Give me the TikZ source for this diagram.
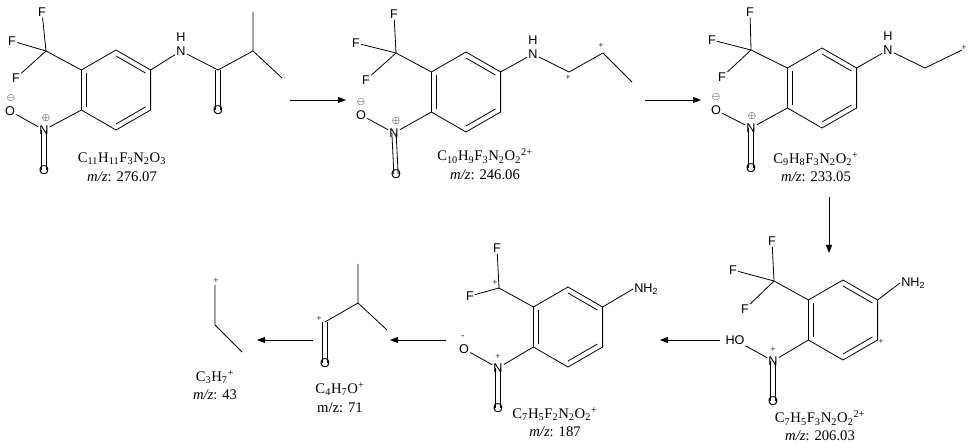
\documentclass[tikz,border=0pt]{standalone}
\usepackage{fontspec}
\setmainfont{Liberation Serif}
\newfontfamily\atomf{Liberation Sans}
\usetikzlibrary{calc,arrows.meta}
\tikzset{
  atom/.style={font=\atomf\fontsize{9.5}{10}\selectfont,inner sep=0.8pt},
  chg/.style={font=\fontsize{7}{7}\selectfont,inner sep=0pt},
  form/.style={font=\fontsize{11}{12}\selectfont,inner sep=0pt,align=center},
  bond/.style={line width=0.6pt},
  rxn/.style={line width=0.6pt,-{Triangle[length=6pt,width=4.5pt]}}
}
\newcommand\benz[3]{%
  \coordinate (#1c) at (#2,#3);
  \coordinate (#1a) at (#2,#3-40);
  \coordinate (#1b) at (#2+34.6,#3-20);
  \coordinate (#1cc) at (#2+34.6,#3+20);
  \coordinate (#1d) at (#2,#3+40);
  \coordinate (#1e) at (#2-34.6,#3+20);
  \coordinate (#1f) at (#2-34.6,#3-20);
  \draw[bond] (#1a)--(#1b)--(#1cc)--(#1d)--(#1e)--(#1f)--cycle;
  \draw[bond] ($(#1c)!0.85!(#1a)$)--($(#1c)!0.85!(#1b)$);
  \draw[bond] ($(#1c)!0.85!(#1cc)$)--($(#1c)!0.85!(#1d)$);
  \draw[bond] ($(#1c)!0.85!(#1e)$)--($(#1c)!0.85!(#1f)$);
}
\newcommand\dbl[3]{%
  \draw[bond] ($(#1)!#3!90:(#2)$)--($(#2)!#3!-90:(#1)$);
  \draw[bond] ($(#1)!#3!-90:(#2)$)--($(#2)!#3!90:(#1)$);
}
\begin{document}
\begin{tikzpicture}[x=0.75pt,y=-0.75pt]
\useasboundingbox (0,0) rectangle (969,448);
% ---------- S1
\benz{p}{116}{90}
\coordinate (p1) at (46,51);
\node[atom] (p1F1) at (42,12) {F};
\node[atom] (p1F2) at (12,41) {F};
\node[atom] (p1F3) at (16,78) {F};
\draw[bond] (pf)--(p1);
\draw[bond] (p1)--(p1F1); \draw[bond] (p1)--(p1F2); \draw[bond] (p1)--(p1F3);
\node[atom] (p1N) at (44,130) {N};
\node[chg] (p1Nc) at (46,118) {$\oplus$};
\node[atom] (p1Om) at (10,111) {O};
\node[chg] (p1Oc) at (11,98) {$\ominus$};
\node[atom] (p1O) at (44,170) {O};
\draw[bond] (pe)--(p1N); \draw[bond] (p1N)--(p1Om);
\dbl{p1N}{p1O}{1.6pt}
\node[atom] (p1NH) at (181,51) {N};
\node[atom] (p1H) at (181,37) {H};
\draw[bond] (pb)--(p1NH);
\coordinate (p1C) at (218,70);
\node[atom] (p1CO) at (218,110) {O};
\coordinate (p1CH) at (253,51);
\coordinate (p1M1) at (253,12);
\coordinate (p1M2) at (282,78);
\draw[bond] (p1NH)--(p1C)--(p1CH)--(p1M1); \draw[bond] (p1CH)--(p1M2);
\dbl{p1C}{p1CO}{1.6pt}
\node[form] (p1f) at (122,159) {C\textsubscript{11}H\textsubscript{11}F\textsubscript{3}N\textsubscript{2}O\textsubscript{3}};
\node[form] (p1m) at (122,177) {\textit{m/z}: 276.07};
% ---------- S2
\benz{q}{466}{92}
\coordinate (q1) at (396,53);
\node[atom] (q1F1) at (394,14) {F};
\node[atom] (q1F2) at (356,43) {F};
\node[atom] (q1F3) at (366,80) {F};
\draw[bond] (qf)--(q1);
\draw[bond] (q1)--(q1F1); \draw[bond] (q1)--(q1F2); \draw[bond] (q1)--(q1F3);
\node[atom] (q1N) at (394,133) {N};
\node[chg] (q1Nc) at (396,121) {$\oplus$};
\node[atom] (q1Om) at (361,115) {O};
\node[chg] (q1Oc) at (361,102) {$\ominus$};
\node[atom] (q1O) at (396,174) {O};
\draw[bond] (qe)--(q1N); \draw[bond] (q1N)--(q1Om);
\dbl{q1N}{q1O}{1.6pt}
\node[atom] (q1NH) at (533,54) {N};
\node[atom] (q1H) at (533,40) {H};
\draw[bond] (qb)--(q1NH);
\coordinate (q1C) at (569,72);
\node[chg] (q1Cp) at (568,78) {+};
\coordinate (q1CH) at (603,53);
\node[chg] (q1CHp) at (601,46) {+};
\coordinate (q1M) at (632,82);
\draw[bond] (q1NH)--(q1C)--(q1CH)--(q1M);
\node[form] (q2f) at (485,156) {C\textsubscript{10}H\textsubscript{9}F\textsubscript{3}N\textsubscript{2}O\textsubscript{2}\textsuperscript{2+}};
\node[form] (q2m) at (485,175) {\textit{m/z}: 246.06};
% ---------- S3
\benz{r}{822}{88}
\coordinate (r1) at (751,50);
\node[atom] (r1F1) at (750,12) {F};
\node[atom] (r1F2) at (712,40) {F};
\node[atom] (r1F3) at (722,77) {F};
\draw[bond] (rf)--(r1);
\draw[bond] (r1)--(r1F1); \draw[bond] (r1)--(r1F2); \draw[bond] (r1)--(r1F3);
\node[atom] (r1N) at (751,128) {N};
\node[chg] (r1Nc) at (752,116) {$\oplus$};
\node[atom] (r1Om) at (716,110) {O};
\node[chg] (r1Oc) at (716,97) {$\ominus$};
\node[atom] (r1O) at (751,168) {O};
\draw[bond] (re)--(r1N); \draw[bond] (r1N)--(r1Om);
\dbl{r1N}{r1O}{1.6pt}
\node[atom] (r1NH) at (888,50) {N};
\node[atom] (r1H) at (888,36) {H};
\draw[bond] (rb)--(r1NH);
\coordinate (r1C) at (925,68);
\coordinate (r1M) at (962,50);
\node[chg] (r1Mp) at (964,48) {+};
\draw[bond] (r1NH)--(r1C)--(r1M);
\node[form] (r3f) at (816,159) {C\textsubscript{9}H\textsubscript{8}F\textsubscript{3}N\textsubscript{2}O\textsubscript{2}\textsuperscript{+}};
\node[form] (r3m) at (816,177) {\textit{m/z}: 233.05};
% ---------- S4
\benz{s}{843}{320}
\coordinate (s1) at (774,281);
\node[atom] (s1F1) at (772,241) {F};
\node[atom] (s1F2) at (733,270) {F};
\node[atom] (s1F3) at (745,309) {F};
\draw[bond] (sf)--(s1);
\draw[bond] (s1)--(s1F1); \draw[bond] (s1)--(s1F2); \draw[bond] (s1)--(s1F3);
\node[atom,anchor=west] (s1NH2) at (900,283) {NH\textsubscript{2}};
\draw[bond] (sb)--(s1NH2.west);
\node[chg] (s1p) at (881,342) {+};
\node[atom] (s1N) at (773,361) {N};
\node[chg] (s1Nc) at (773,350) {+};
\node[atom] (s1OH) at (735,340) {HO};
\node[atom] (s1O) at (773,401) {O};
\draw[bond] (se)--(s1N); \draw[bond] (s1N)--(s1OH);
\dbl{s1N}{s1O}{1.6pt}
\node[form] (s4f) at (820,418) {C\textsubscript{7}H\textsubscript{5}F\textsubscript{3}N\textsubscript{2}O\textsubscript{2}\textsuperscript{2+}};
\node[form] (s4m) at (820,436) {\textit{m/z}: 206.03};
% ---------- S5
\benz{t}{568}{327}
\coordinate (t1) at (499,288);
\node[chg] (t1p) at (495,283) {+};
\node[atom] (t1F1) at (497,248) {F};
\node[atom] (t1F2) at (470,296) {F};
\draw[bond] (tf)--(t1);
\draw[bond] (t1)--(t1F1); \draw[bond] (t1)--(t1F2);
\node[atom,anchor=west] (t1NH2) at (633,289) {NH\textsubscript{2}};
\draw[bond] (tb)--(t1NH2.west);
\node[atom] (t1N) at (498,368) {N};
\node[chg] (t1Nc) at (498,357) {+};
\node[atom] (t1Om) at (464,349) {O};
\node[chg] (t1Oc) at (463,337) {-};
\node[atom] (t1O) at (498,408) {O};
\draw[bond] (te)--(t1N); \draw[bond] (t1N)--(t1Om);
\dbl{t1N}{t1O}{1.6pt}
\node[form] (t5f) at (555,414) {C\textsubscript{7}H\textsubscript{5}F\textsubscript{2}N\textsubscript{2}O\textsubscript{2}\textsuperscript{+}};
\node[form] (t5m) at (555,432) {\textit{m/z}: 187};
% ---------- S6
\coordinate (u1) at (325,322);
\node[chg] (u1p) at (319,319) {+};
\coordinate (u1CH) at (358,303);
\coordinate (u1M1) at (358,264);
\coordinate (u1M2) at (387,330);
\node[atom] (u1O) at (325,363) {O};
\draw[bond] (u1)--(u1CH)--(u1M1); \draw[bond] (u1CH)--(u1M2);
\dbl{u1}{u1O}{1.6pt}
\node[form] (u6f) at (340,389) {C\textsubscript{4}H\textsubscript{7}O\textsuperscript{+}};
\node[form] (u6m) at (340,408) {m/z: 71};
% ---------- S7
\coordinate (v1) at (215,285);
\node[chg] (v1p) at (216,281) {+};
\coordinate (v2) at (215,325);
\coordinate (v3) at (242,352);
\draw[bond] (v1)--(v2)--(v3);
\node[form] (v7f) at (215,377) {C\textsubscript{3}H\textsubscript{7}\textsuperscript{+}};
\node[form] (v7m) at (215,395) {\textit{m/z}: 43};
% ---------- arrows
\coordinate (a1s) at (290,100); \coordinate (a1e) at (346,100);
\coordinate (a2s) at (645,100); \coordinate (a2e) at (701,100);
\coordinate (a3s) at (829,197); \coordinate (a3e) at (829,253);
\coordinate (a4s) at (720,340); \coordinate (a4e) at (660,340);
\coordinate (a5s) at (446,340); \coordinate (a5e) at (390,340);
\coordinate (a6s) at (313,340); \coordinate (a6e) at (257,340);
\foreach \i in {1,...,6} \draw[rxn] (a\i s)--(a\i e);
\end{tikzpicture}
\end{document}
